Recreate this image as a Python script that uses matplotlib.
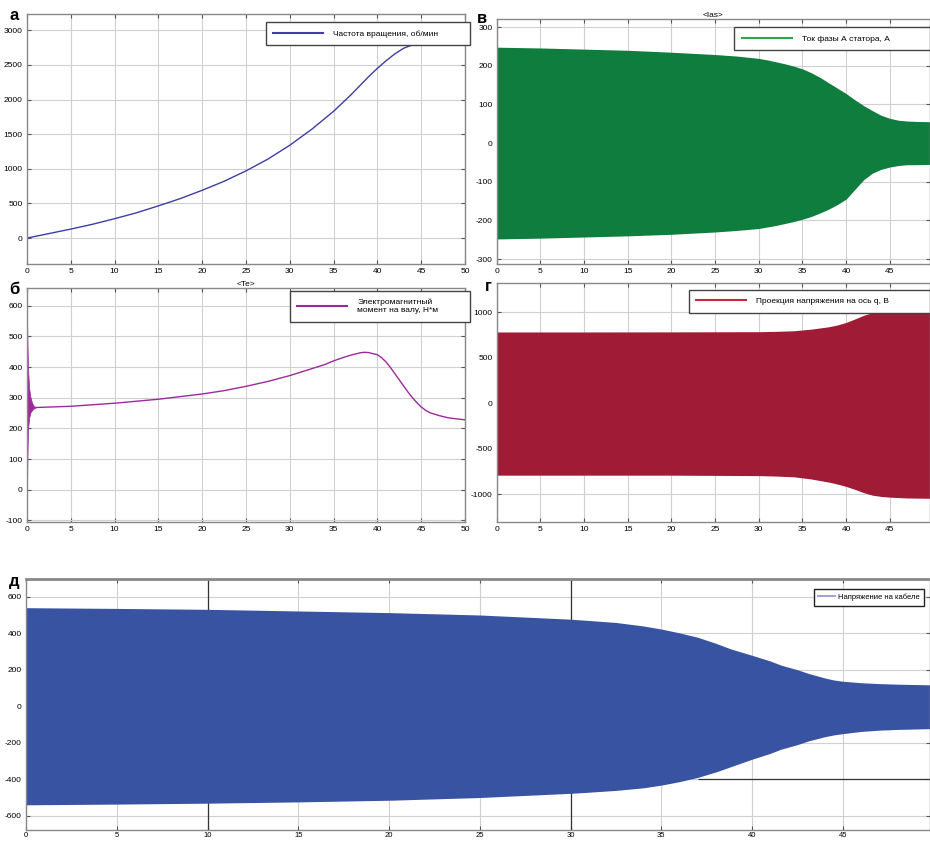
import matplotlib.pyplot as plt
from matplotlib.lines import Line2D

plt.rcParams['font.family'] = ['Liberation Sans', 'DejaVu Sans']
plt.rcParams['axes.unicode_minus'] = False

# а: частота вращения, об/мин
t_speed = [0, 2.5, 5, 7.5, 10, 12.5, 15, 17.5, 20, 22.5, 25, 27.5, 30, 32.5,
           35, 36, 37, 38, 39, 40, 41, 42, 43, 44, 45, 46, 47, 48, 50]
speed = [0, 65, 130, 200, 280, 365, 465, 570, 690, 820, 970, 1140, 1340, 1570,
         1830, 1950, 2070, 2200, 2330, 2450, 2560, 2660, 2740, 2790, 2820,
         2840, 2850, 2855, 2860]

# б: электромагнитный момент (пусковые колебания + кривая)
t_te_osc = [0, 0.03, 0.08, 0.15, 0.25, 0.4, 0.6, 0.8, 1.0]
te_osc_hi = [580, 520, 440, 380, 330, 300, 282, 272, 268]
te_osc_lo = [-30, 60, 150, 205, 235, 252, 260, 265, 268]
t_te = [1, 5, 10, 15, 20, 22.5, 25, 27.5, 30, 32, 34, 35, 36, 37, 38, 38.5,
        39, 40, 40.5, 41, 41.5, 42, 42.5, 43, 43.5, 44, 44.5, 45, 45.5, 46,
        47, 48, 49, 50]
te = [268, 272, 282, 295, 312, 323, 337, 353, 372, 390, 408, 420, 430, 439,
      446, 448, 447, 440, 430, 416, 398, 378, 358, 338, 318, 300, 284, 270,
      259, 251, 242, 235, 231, 228]

# в: ток фазы А статора (огибающая)
t_ia = [0, 5, 10, 15, 20, 25, 27.5, 30, 31, 32, 33, 34, 35, 36, 37, 38, 39,
        40, 41, 42, 43, 44, 45, 46, 47, 48, 50]
ia_hi = [248, 246, 243, 240, 235, 229, 225, 219, 215, 210, 205, 199, 192, 182,
         170, 156, 142, 128, 112, 97, 84, 72, 64, 59, 57, 56, 55]
ia_lo = [-248, -246, -243, -240, -236, -230, -226, -221, -217, -213, -208,
         -203, -197, -190, -181, -171, -159, -145, -120, -95, -78, -68, -62,
         -58, -56, -56, -55]

# г: проекция напряжения на ось q (огибающая)
t_uq = [0, 10, 20, 30, 32, 34, 36, 38, 39, 40, 41, 42, 43, 44, 45, 47, 50]
uq_hi = [785, 785, 786, 788, 792, 798, 816, 842, 862, 890, 928, 968, 998,
         1017, 1028, 1041, 1047]
uq_lo = [-790, -790, -790, -795, -800, -808, -832, -866, -888, -914, -946,
         -982, -1010, -1024, -1032, -1041, -1045]

# д: напряжение на кабеле (огибающая)
t_uc = [0, 5, 10, 15, 20, 25, 30, 31, 32.5, 34, 35, 36, 37, 38, 38.8, 40, 41,
        41.6, 42.5, 43.1, 44, 44.5, 45, 46, 47, 48, 50]
uc_hi = [540, 536, 531, 522, 513, 500, 477, 470, 459, 440, 423, 402, 378, 345,
         315, 279, 248, 225, 200, 180, 155, 144, 137, 129, 124, 121, 117]
uc_lo = [-540, -536, -531, -524, -515, -500, -477, -471, -461, -447, -432,
         -413, -390, -360, -332, -290, -258, -235, -210, -190, -167, -157,
         -150, -138, -131, -127, -122]


def style_axes(ax, xlim, ylim, yticks, xmax_tick=50):
    ax.set_xlim(*xlim)
    ax.set_ylim(*ylim)
    ax.set_xticks(range(0, xmax_tick + 1, 5))
    ax.set_yticks(yticks)
    ax.grid(True, color='#d0d0d0', linewidth=0.8)
    ax.set_axisbelow(True)
    ax.tick_params(direction='in', length=3, labelsize=6, top=True,
                   right=True, color='#555555', pad=3)
    for sp in ax.spines.values():
        sp.set_color('#888888')
        sp.set_linewidth(1.0)


def add_legend(ax, color, label, anchor):
    h = Line2D([], [], color=color, linewidth=1.5)
    ax.legend([h], [label], loc='upper right', bbox_to_anchor=anchor,
              fontsize=6, fancybox=False, edgecolor='#444444',
              framealpha=1, handlelength=6, borderpad=0.9,
              handletextpad=1.2)


fig = plt.figure(figsize=(9.3, 8.41), dpi=100)

# а
ax_a = fig.add_axes([0.029, 0.686, 0.471, 0.297])
ax_a.plot(t_speed, speed, color='#3c3fa3', linewidth=1.0)
style_axes(ax_a, (0, 50), (-375, 3230), range(0, 3001, 500))
add_legend(ax_a, '#3c3fa3', 'Частота вращения, об/мин          ', (1.02, 0.985))

# в
ax_v = fig.add_axes([0.534, 0.686, 0.466, 0.291])
ax_v.fill_between(t_ia, ia_lo, ia_hi, color='#0f7d3e', linewidth=0)
style_axes(ax_v, (0, 49.6), (-313, 320), range(-300, 301, 100), 45)
ax_v.set_title('<Ias>', fontsize=6, pad=2)
add_legend(ax_v, '#2ea84a', 'Ток фазы А статора, А              ', (1.01, 0.985))

# б
ax_b = fig.add_axes([0.029, 0.379, 0.471, 0.278])
ax_b.fill_between(t_te_osc, te_osc_lo, te_osc_hi, color='#9c2a9c', linewidth=0.5)
ax_b.plot(t_te, te, color='#9c2a9c', linewidth=1.0)
style_axes(ax_b, (0, 50), (-106, 656), range(-100, 601, 100))
ax_b.set_title('<Te>', fontsize=6, pad=2)
add_legend(ax_b, '#9c2a9c', 'Электромагнитный\nмомент на валу, Н*м          ', (1.02, 1.005))

# г
ax_g = fig.add_axes([0.534, 0.379, 0.466, 0.284])
ax_g.fill_between(t_uq, uq_lo, uq_hi, color='#a01b35', linewidth=0)
style_axes(ax_g, (0, 49.6), (-1308, 1319), range(-1000, 1001, 500), 45)
add_legend(ax_g, '#c8283c', 'Проекция напряжения на ось q, В              ', (1.01, 0.99))

# д
ax_d = fig.add_axes([0.028, 0.0135, 0.972, 0.298])
ax_d.fill_between(t_uc, uc_lo, uc_hi, color='#3953a3', linewidth=0)
style_axes(ax_d, (0, 49.8), (-676, 697), range(-600, 601, 200), 45)
ax_d.tick_params(axis='x', labelsize=5.5, pad=1.5)
ax_d.axvline(10, color='#333333', linewidth=0.9, zorder=0.8)
ax_d.axvline(30, color='#333333', linewidth=0.9, zorder=0.8)
ax_d.hlines(-400, 37, 50, color='#333333', linewidth=0.9, zorder=0.8)
ax_d.spines['top'].set_linewidth(2)
h = Line2D([], [], color='#a3a3d6', linewidth=1.5)
ax_d.legend([h], ['Напряжение на кабеле'], loc='upper right',
            bbox_to_anchor=(0.998, 0.975), fontsize=5.5, fancybox=False,
            edgecolor='#222222', framealpha=1, handlelength=2.2,
            borderpad=0.6, handletextpad=0.4)

# подписи панелей
for x, y, s in [(0.010, 0.990, 'а'), (0.513, 0.987, 'в'), (0.010, 0.665, 'б'),
                (0.521, 0.668, 'г'), (0.010, 0.318, 'д')]:
    fig.text(x, y, s, fontsize=12, fontweight='bold', va='top')

fig.savefig('out.png', dpi=100)
